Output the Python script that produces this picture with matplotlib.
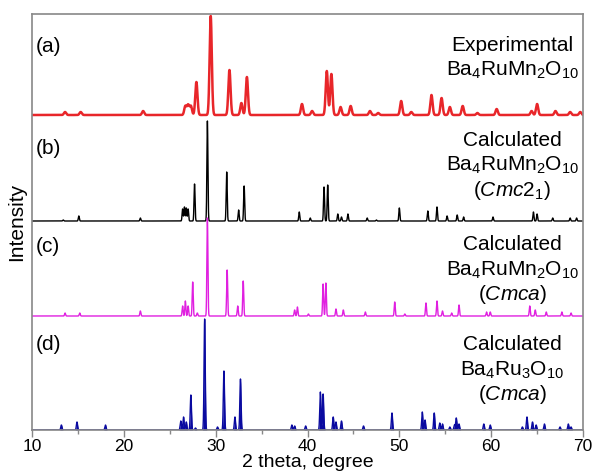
import numpy as np
import matplotlib
matplotlib.use("Agg")
import matplotlib.pyplot as plt
from matplotlib.ticker import MultipleLocator

plt.rcParams["font.family"] = ["Liberation Sans", "DejaVu Sans"]
plt.rcParams["mathtext.fontset"] = "custom"
plt.rcParams["mathtext.rm"] = "Liberation Sans"
plt.rcParams["mathtext.it"] = "Liberation Sans:italic"
plt.rcParams["mathtext.default"] = "regular"

# peak tables: 2theta (deg), height (axis units, 1 = 100 px)
exp_pos = [13.6, 15.3, 22.1, 26.7, 27.0, 27.3, 27.9, 29.46, 31.5, 32.8, 33.4,
           39.4, 40.5, 42.1, 42.6, 43.6, 44.7, 46.8, 47.7, 50.2, 51.3, 53.5,
           54.6, 55.5, 56.9, 58.5, 60.6, 64.4, 65.0, 67.0, 68.6, 69.7]
exp_int = [0.03, 0.03, 0.04, 0.09, 0.10, 0.09, 0.33, 0.99, 0.45, 0.12, 0.38,
           0.11, 0.04, 0.44, 0.41, 0.08, 0.09, 0.04, 0.02, 0.14, 0.03, 0.20,
           0.17, 0.08, 0.09, 0.02, 0.06, 0.04, 0.11, 0.04, 0.03, 0.03]

cmc21_pos = [13.4, 15.1, 21.8, 26.4, 26.6, 26.8, 27.0, 27.7, 29.1, 31.2, 32.5,
             33.1, 39.1, 40.3, 41.8, 42.2, 43.3, 43.7, 44.4, 46.5, 47.5, 50.0,
             53.1, 54.1, 55.2, 56.3, 57.0, 60.2, 64.6, 65.0, 66.7, 68.6, 69.3]
cmc21_int = [0.01, 0.05, 0.03, 0.12, 0.14, 0.13, 0.12, 0.37, 1.00, 0.49, 0.11,
             0.35, 0.09, 0.03, 0.34, 0.36, 0.07, 0.04, 0.07, 0.03, 0.01, 0.13,
             0.10, 0.14, 0.05, 0.06, 0.04, 0.04, 0.09, 0.07, 0.03, 0.03, 0.03]

cmca_pos = [13.6, 15.2, 21.8, 26.4, 26.7, 27.0, 27.5, 28.0, 29.1, 31.25, 32.4,
            33.0, 38.6, 38.9, 40.1, 41.7, 42.0, 43.1, 43.9, 46.3, 49.5, 50.6,
            52.9, 54.1, 54.7, 55.7, 56.5, 59.5, 59.9, 64.2, 64.8, 66.0, 67.7, 68.7]
cmca_int = [0.03, 0.03, 0.05, 0.10, 0.15, 0.10, 0.34, 0.03, 0.98, 0.46, 0.10,
            0.35, 0.06, 0.09, 0.02, 0.32, 0.33, 0.07, 0.06, 0.04, 0.14, 0.02,
            0.13, 0.15, 0.05, 0.03, 0.11, 0.04, 0.04, 0.10, 0.06, 0.04, 0.04, 0.03]

ru3_pos = [13.2, 14.9, 18.0, 26.2, 26.5, 26.8, 27.3, 27.8, 28.8, 30.2, 30.9,
           32.1, 32.7, 38.3, 38.6, 39.8, 41.4, 41.7, 42.8, 43.1, 43.7, 46.1,
           49.2, 52.5, 52.8, 53.8, 54.4, 54.7, 55.5, 56.0, 56.2, 56.5, 59.2,
           59.9, 63.4, 63.9, 64.5, 64.9, 65.8, 67.5, 68.4, 68.7]
ru3_int = [0.05, 0.08, 0.05, 0.09, 0.13, 0.08, 0.35, 0.02, 1.11, 0.03, 0.59,
           0.13, 0.51, 0.05, 0.04, 0.04, 0.38, 0.36, 0.13, 0.08, 0.09, 0.04,
           0.17, 0.18, 0.10, 0.17, 0.07, 0.06, 0.03, 0.05, 0.12, 0.06, 0.06,
           0.05, 0.03, 0.13, 0.08, 0.05, 0.06, 0.03, 0.06, 0.03]

tth = np.linspace(10, 70, 6001)


def profile(pos, inten, sigma):
    y = np.zeros_like(tth)
    for p, h in zip(pos, inten):
        y += h * np.exp(-0.5 * ((tth - p) / sigma) ** 2)
    return y


fig = plt.figure(figsize=(5.92, 4.74), dpi=100)
ax = fig.add_axes([32 / 592, 1 - 430 / 474, 551 / 592, 416 / 474])

ax.plot(tth, 3.15 + profile(exp_pos, exp_int, 0.12), color="#e8262a", lw=1.8)
ax.plot(tth, 2.09 + profile(cmc21_pos, cmc21_int, 0.055), color="black", lw=1.0)
ax.plot(tth, 1.14 + profile(cmca_pos, cmca_int, 0.055), color="#e020e0", lw=1.0)
y_d = profile(ru3_pos, ru3_int, 0.065)
ax.fill_between(tth, 0, y_d, color="#0a0aa0", lw=0)
ax.plot(tth, y_d, color="#0a0aa0", lw=1.0)

ax.set_xlim(10, 70)
ax.set_ylim(0, 4.16)
ax.set_yticks([])
ax.xaxis.set_major_locator(MultipleLocator(10))
ax.xaxis.set_minor_locator(MultipleLocator(5))
ax.tick_params(axis="x", which="major", direction="out", length=5, width=1,
               color="#888888", labelsize=12.5, pad=1.5)
ax.tick_params(axis="x", which="minor", direction="out", length=3, width=1,
               color="#888888")
for s in ax.spines.values():
    s.set_color("#888888")
    s.set_linewidth(1.2)

ax.set_xlabel("2 theta, degree", fontsize=14, labelpad=0)
ax.set_ylabel("Intensity", fontsize=15, labelpad=4)

lab_kw = dict(fontsize=15, ha="center", va="center")
for letter, yy in zip(["(a)", "(b)", "(c)", "(d)"], [3.84, 2.82, 1.84, 0.85]):
    ax.text(10.45, yy, letter, fontsize=15, ha="left", va="center")

ax.text(62.3, 3.85, "Experimental", **lab_kw)
ax.text(62.3, 3.60, "Ba$_4$RuMn$_2$O$_{10}$", **lab_kw)
ax.text(62.3, 2.90, "Calculated", **lab_kw)
ax.text(62.3, 2.65, "Ba$_4$RuMn$_2$O$_{10}$", **lab_kw)
ax.text(62.3, 2.40, "($\\it{Cmc}$2$_1$)", **lab_kw)
ax.text(62.3, 1.86, "Calculated", **lab_kw)
ax.text(62.3, 1.60, "Ba$_4$RuMn$_2$O$_{10}$", **lab_kw)
ax.text(62.3, 1.35, "($\\it{Cmca}$)", **lab_kw)
ax.text(62.3, 0.86, "Calculated", **lab_kw)
ax.text(62.3, 0.60, "Ba$_4$Ru$_3$O$_{10}$", **lab_kw)
ax.text(62.3, 0.35, "($\\it{Cmca}$)", **lab_kw)

fig.savefig("out.png", dpi=100)
